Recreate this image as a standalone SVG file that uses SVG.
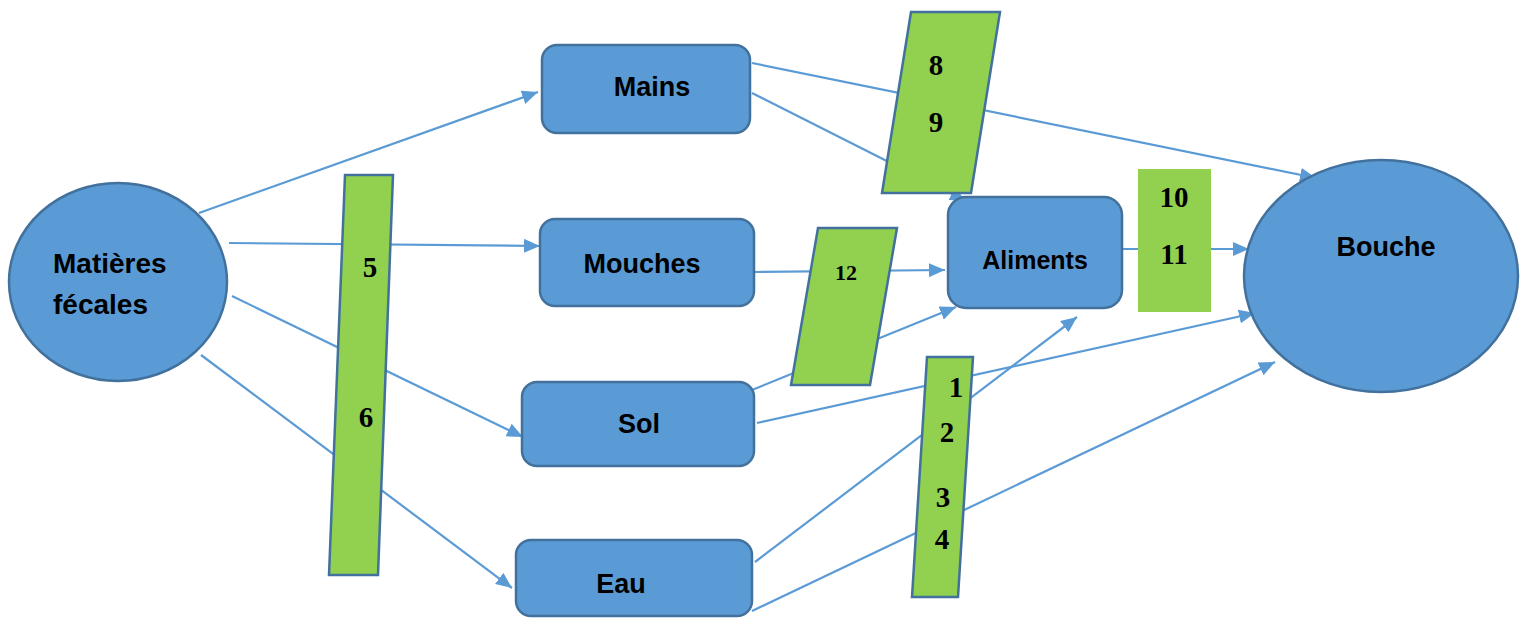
<svg xmlns="http://www.w3.org/2000/svg" width="1526" height="618" viewBox="0 0 1526 618">
<style>
.node{fill:#5B9BD5;stroke:#41719C;stroke-width:2.5}
.bar{fill:#92D050;stroke:#41719C;stroke-width:2.5}
.lbl{font-family:"Liberation Sans",Arial,sans-serif;font-weight:bold;font-size:27px;fill:#000}
.num{font-family:"Liberation Serif","Times New Roman",serif;font-weight:bold;font-size:29px;fill:#000;text-anchor:middle}
.c{fill:none;stroke:#5B9BD5;stroke-width:2.2}
.a{marker-end:url(#arr)}
</style>
<defs>
<marker id="arr" markerUnits="userSpaceOnUse" markerWidth="17" markerHeight="14" refX="16" refY="7" orient="auto">
<path d="M0,0 L16,7 L0,14 z" fill="#5B9BD5"/>
</marker>
</defs>
<rect width="1526" height="618" fill="#fff"/>
<g id="connectors">
<line class="c a" x1="199" y1="213" x2="538" y2="92"/>
<line class="c a" x1="229" y1="243" x2="540" y2="246"/>
<line class="c a" x1="232" y1="296" x2="523" y2="437"/>
<line class="c a" x1="201" y1="355" x2="512" y2="588"/>
<line class="c a" x1="752" y1="63" x2="1316" y2="178"/>
<line class="c a" x1="752" y1="93" x2="966" y2="201"/>
<line class="c a" x1="754" y1="272" x2="945" y2="270"/>
<line class="c a" x1="752" y1="390" x2="956" y2="307"/>
<line class="c a" x1="757" y1="423" x2="1255" y2="313"/>
<line class="c a" x1="755" y1="562" x2="1077" y2="317"/>
<line class="c a" x1="752" y1="611" x2="1275" y2="362"/>
<line class="c a" x1="1122" y1="249" x2="1249" y2="249"/>
</g>
<g id="matieres">
<ellipse class="node" cx="118" cy="282" rx="109" ry="99"/>
<text class="lbl" x="53" y="273" style="font-size:28px">Matières</text>
<text class="lbl" x="53" y="314" style="font-size:28px">fécales</text>
</g>
<g id="mains">
<rect class="node" x="542" y="45" width="208" height="88" rx="15"/>
<text class="lbl" x="652" y="96" text-anchor="middle">Mains</text>
</g>
<g id="mouches">
<rect class="node" x="540" y="219" width="214" height="87" rx="15"/>
<text class="lbl" x="642" y="273" text-anchor="middle">Mouches</text>
</g>
<g id="sol">
<rect class="node" x="522" y="382" width="232" height="84" rx="15"/>
<text class="lbl" x="639" y="433" text-anchor="middle">Sol</text>
</g>
<g id="eau">
<rect class="node" x="516" y="540" width="236" height="76" rx="15"/>
<text class="lbl" x="621" y="593" text-anchor="middle">Eau</text>
</g>
<g id="aliments">
<rect class="node" x="948" y="197" width="174" height="111" rx="18"/>
<text class="lbl" x="1035" y="269" text-anchor="middle" style="font-size:25px">Aliments</text>
</g>
<g id="bouche">
<ellipse class="node" cx="1381" cy="276" rx="137" ry="116"/>
<text class="lbl" x="1386" y="256" text-anchor="middle">Bouche</text>
</g>
<g id="bar-5-6">
<polygon class="bar" points="345,175 393,175 378,575 329,575"/>
<text class="num" x="370" y="277">5</text>
<text class="num" x="366" y="427">6</text>
</g>
<g id="bar-8-9">
<polygon class="bar" points="911,12 1000,12 971,193 882,193"/>
<text class="num" x="936" y="75">8</text>
<text class="num" x="936" y="132">9</text>
</g>
<g id="bar-12">
<polygon class="bar" points="818,228 897,228 870,385 791,385"/>
<text class="num" x="846" y="280" style="font-size:22px">12</text>
</g>
<g id="bar-1-4">
<polygon class="bar" points="927,357 973,357 958,597 912,597"/>
<text class="num" x="956" y="397">1</text>
<text class="num" x="947" y="442">2</text>
<text class="num" x="943" y="507">3</text>
<text class="num" x="942" y="549">4</text>
</g>
<g id="bar-10-11">
<rect x="1138" y="169" width="73" height="143" fill="#92D050"/>
<text class="num" x="1174" y="207">10</text>
<text class="num" x="1174" y="264">11</text>
</g>
</svg>
